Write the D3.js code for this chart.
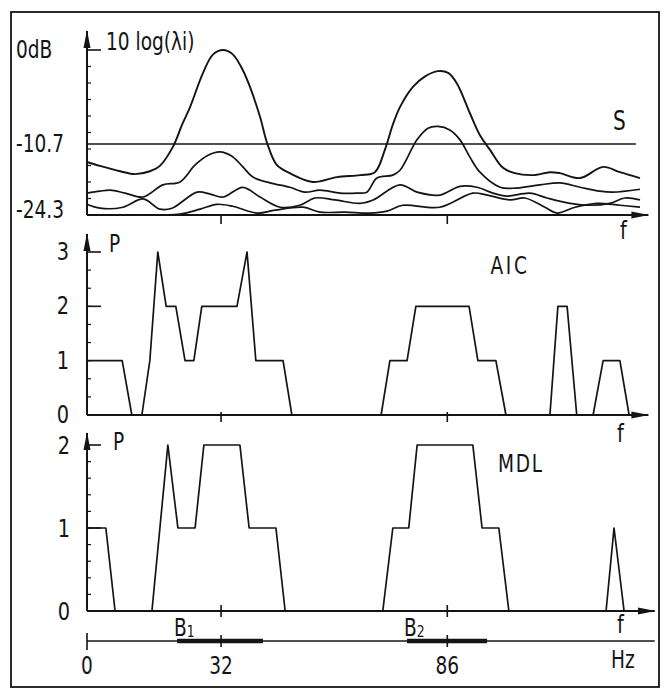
<!DOCTYPE html>
<html>
<head>
<meta charset="utf-8">
<script src="https://cdn.jsdelivr.net/npm/d3@7"></script>
<style>
  body { margin: 0; background: #fff; }
  svg text { font-family: "DejaVu Sans Condensed", "DejaVu Sans", sans-serif; fill: #141414; }
</style>
</head>
<body>
<div id="chart"></div>
<script>
// eigenvalue curves, [f (Hz), 10 log(lambda_i) (dB)]
const lambda1 = [[0,-14.4],[3.1,-15.2],[7.9,-16.3],[11.5,-16.9],[15.0,-16.3],[17.4,-15.2],[20.5,-11.3],[22.7,-8.5],[24.6,-6.5],[27.7,-2.6],[30.1,-0.5],[32.5,0],[34.8,-0.5],[37.2,-2.3],[38.9,-4.2],[41.3,-7.6],[43.0,-10.6],[45.3,-15.0],[48.4,-16.7],[53.9,-18.5],[59.7,-17.5],[65.2,-17.1],[68.7,-16.5],[71.1,-11.9],[73.0,-8.5],[74.7,-6.5],[77.8,-4.2],[80.7,-3.0],[83.8,-2.4],[86.2,-2.6],[88.3,-3.8],[91.4,-7.2],[93.8,-9.7],[96.2,-11.9],[99.3,-15.6],[102.1,-16.7],[106.4,-17.1],[110.5,-16.5],[112.9,-16.7],[117.7,-17.7],[123.2,-15.4],[127.2,-16.5],[132.0,-17.7]];
const lambda2 = [[0,-20.8],[3.1,-20.4],[5.5,-20.2],[9.1,-20.8],[13.4,-21.6],[18.1,-19.1],[22.2,-18.5],[25.8,-15.0],[28.9,-13.0],[31.7,-12.3],[34.6,-13.2],[37.2,-15.4],[39.6,-17.5],[43.7,-18.7],[48.4,-19.6],[52.0,-20.6],[55.6,-20.2],[60.4,-20.8],[64.4,-20.8],[66.8,-20.6],[69.2,-17.7],[73.0,-17.1],[74.7,-16.1],[78.8,-10.2],[81.4,-8.9],[83.8,-8.7],[86.6,-9.1],[89.0,-10.2],[91.4,-13.4],[93.8,-16.5],[98.6,-19.6],[101.7,-19.8],[108.1,-19.1],[112.9,-18.7],[117.7,-19.6],[122.4,-20.4],[125.5,-20.6],[132.0,-20.0]];
const lambda3 = [[0,-23.1],[3.1,-23.9],[8.6,-23.7],[13.4,-22.0],[17.4,-24.1],[20.3,-23.9],[26.3,-20.6],[29.4,-21.0],[32.5,-21.6],[37.2,-19.6],[41.3,-21.6],[46.1,-23.7],[50.8,-23.3],[54.4,-21.8],[59.2,-22.2],[65.2,-22.9],[68.3,-22.2],[74.7,-19.1],[78.8,-20.6],[84.2,-21.2],[89.0,-19.4],[93.1,-19.6],[96.9,-20.8],[100.2,-21.4],[105.7,-20.8],[109.8,-21.8],[115.3,-22.9],[120.0,-23.3],[124.8,-22.9],[128.4,-21.8],[132.0,-22.2]];
const lambda4 = [[0,-25.3],[7.9,-25.3],[22.2,-25.1],[27.0,-24.1],[31.0,-23.1],[34.8,-23.5],[40.6,-24.9],[44.9,-24.3],[51.6,-23.7],[55.6,-24.7],[61.6,-24.7],[67.5,-24.9],[71.6,-24.5],[75.4,-23.3],[84.2,-23.7],[92.1,-20.8],[95.5,-21.2],[101.0,-22.2],[104.5,-21.8],[109.3,-23.7],[112.2,-24.9],[116.5,-23.7],[121.7,-22.9],[127.2,-23.3],[132.0,-23.7]];
const eigen = [lambda1, lambda2, lambda3, lambda4];
const threshold = -10.7;
const dbTicks = [-24.3, -10.7, 0];

// estimated number of sources P
const aicF = [0, 8.4, 10.7, 13.1, 15.0, 16.9, 18.9, 21.2, 23.4, 25.5, 27.4, 35.8, 38.2, 40.3, 46.8, 48.9, 70.2, 72.3, 76.4, 78.5, 91.2, 93.3, 97.6, 100.0, 110.5, 112.4, 114.6, 116.9, 120.8, 123.2, 127.2, 129.4];
const aicP = [1, 1, 0, 0, 1, 3, 2, 2, 1, 1, 2, 2, 3, 1, 1, 0, 0, 1, 1, 2, 2, 1, 1, 0, 0, 2, 2, 0, 0, 1, 1, 0];
const mdlF = [0, 4.5, 6.7, 15.5, 19.3, 21.7, 25.8, 27.9, 36.5, 38.7, 45.1, 47.3, 70.6, 73.0, 76.8, 78.8, 92.1, 94.3, 98.3, 100.7, 123.9, 125.8, 128.2];
const mdlP = [1, 1, 0, 0, 2, 1, 1, 2, 2, 1, 1, 0, 0, 1, 1, 2, 2, 1, 1, 0, 0, 1, 0];
const aicTicks = [0, 1, 2, 3];
const mdlTicks = [0, 1, 2];

const freqTicks = [0, 32, 86];
const bands = [
    { sub: '1', from: 21.5, to: 42.0 },
    { sub: '2', from: 76.4, to: 95.5 }
];

const width = 667, height = 698;
const ink = '#141414';
const squeeze = 0.86; // the original lettering is narrow

const svg = d3.select('#chart').append('svg')
    .attr('width', width)
    .attr('height', height);

const defs = svg.append('defs');
defs.append('marker')
    .attr('id', 'arrow')
    .attr('viewBox', '0 0 18 8')
    .attr('refX', 17).attr('refY', 4)
    .attr('markerWidth', 18).attr('markerHeight', 8)
    .attr('markerUnits', 'userSpaceOnUse')
    .attr('orient', 'auto')
    .append('path')
    .attr('d', 'M0,0.5 L18,4 L0,7.5 Z')
    .attr('fill', ink);

// frame
svg.append('rect')
    .attr('x', 11).attr('y', 12)
    .attr('width', 648).attr('height', 675)
    .attr('fill', 'none').attr('stroke', ink).attr('stroke-width', 1.8);

const x = d3.scaleLinear().domain([0, 132]).range([87, 640]);
const yTop = d3.scaleLinear().domain([-25.3, -10.7, 0]).range([215, 144, 50]);
const yAic = d3.scaleLinear().domain([0, 3]).range([415, 252]);
const yMdl = d3.scaleLinear().domain([0, 2]).range([611, 445]);

function text(str, px, py, size, anchor, ls) {
    return svg.append('text')
        .attr('transform', `translate(${px},${py}) scale(${squeeze},1)`)
        .attr('font-size', size || 23)
        .attr('text-anchor', anchor || 'start')
        .attr('letter-spacing', ls || 0)
        .text(str);
}

function axes(y, yMin, tipY, fEnd, minorStep, majors, tickDown) {
    const g = svg.append('g').attr('stroke', ink).attr('fill', 'none');
    const x0 = x(0), yb = y(yMin);
    const dom = y.domain();
    g.append('line').attr('x1', x0).attr('y1', yb).attr('x2', x0).attr('y2', tipY)
        .attr('stroke-width', 2).attr('marker-end', 'url(#arrow)');
    g.append('line').attr('x1', x0).attr('y1', yb).attr('x2', x(fEnd)).attr('y2', yb)
        .attr('stroke-width', 2.2).attr('marker-end', 'url(#arrow)');
    // minor ticks, evenly spaced along the axis
    const minor = d3.scaleLinear().domain([0, minorStep]).range([y(dom[dom.length - 1]), yb]);
    d3.range(1, minorStep).forEach(i => {
        g.append('line').attr('x1', x0).attr('x2', x0 + 4)
            .attr('y1', minor(i)).attr('y2', minor(i)).attr('stroke-width', 1.2);
    });
    majors.forEach(v => {
        g.append('line').attr('x1', x0).attr('x2', x0 + 14)
            .attr('y1', y(v)).attr('y2', y(v)).attr('stroke-width', 1.6);
    });
    [32, 86].forEach(f => {
        g.append('line').attr('x1', x(f)).attr('x2', x(f))
            .attr('y1', yb - tickDown[0]).attr('y2', yb + tickDown[1]).attr('stroke-width', 1.6);
    });
}

// ---- top panel: eigenvalues
axes(yTop, -25.3, 31, 134, 10, [0], [0, 9]);

svg.append('line')
    .attr('x1', x(0)).attr('x2', x(131))
    .attr('y1', yTop(threshold)).attr('y2', yTop(threshold))
    .attr('stroke', ink).attr('stroke-width', 1.4);

const eigLine = d3.line()
    .x(d => x(d[0]))
    .y(d => yTop(d[1]))
    .curve(d3.curveCatmullRom.alpha(0.5));

svg.append('g').selectAll('path')
    .data(eigen)
    .enter()
    .append('path')
    .attr('d', eigLine)
    .attr('fill', 'none')
    .attr('stroke', ink)
    .attr('stroke-width', (d, i) => i === 0 ? 1.9 : 1.7)
    .attr('stroke-linejoin', 'round');

dbTicks.forEach(v => {
    text(v === 0 ? '0dB' : String(v), 16, yTop(v) + 8, 24);
});
text('10 log(\u03bbi)', 106, 50, 24);
text('S', 613, 130, 26);
text('f', 620, 239, 25);

// ---- AIC panel
axes(yAic, 0, 234, 134, 9, [2, 3], [3, 7]);
const pLineAic = d3.line().x((d, i) => x(aicF[i])).y(d => yAic(d));
svg.append('path')
    .attr('d', pLineAic(aicP))
    .attr('fill', 'none').attr('stroke', ink).attr('stroke-width', 1.7)
    .attr('stroke-linejoin', 'round');
aicTicks.forEach(v => text(String(v), 63, yAic(v) + 8, 25, 'middle'));
text('P', 109, 252, 24);
text('AIC', 510, 274, 24, 'middle', 3);
text('f', 617, 442, 25);

// ---- MDL panel
axes(yMdl, 0, 433, 135.5, 10, [1, 2], [6, 6]);
const pLineMdl = d3.line().x((d, i) => x(mdlF[i])).y(d => yMdl(d));
svg.append('path')
    .attr('d', pLineMdl(mdlP))
    .attr('fill', 'none').attr('stroke', ink).attr('stroke-width', 1.7)
    .attr('stroke-linejoin', 'round');
mdlTicks.forEach(v => text(String(v), 64, yMdl(v) + 9, 25, 'middle'));
text('P', 113, 450, 24);
text('MDL', 521, 472, 24, 'middle', 2);
text('f', 617, 633, 25);

// ---- frequency axis (Hz) with bands
const hzY = 641;
const hz = svg.append('g').attr('stroke', ink);
hz.append('line').attr('x1', x(0)).attr('x2', x(135.5))
    .attr('y1', hzY).attr('y2', hzY).attr('stroke-width', 1.5);
hz.append('line').attr('x1', x(0)).attr('x2', x(0))
    .attr('y1', hzY - 8).attr('y2', hzY + 9).attr('stroke-width', 1.6);
freqTicks.slice(1).forEach(f => {
    hz.append('line').attr('x1', x(f)).attr('x2', x(f))
        .attr('y1', hzY - 6).attr('y2', hzY + 6).attr('stroke-width', 1.6);
});
bands.forEach(b => {
    hz.append('line').attr('x1', x(b.from)).attr('x2', x(b.to))
        .attr('y1', hzY).attr('y2', hzY).attr('stroke-width', 4.5);
    const t = text('B', x(b.from) - 3, hzY - 5, 24);
    t.append('tspan').attr('font-size', 16).attr('dy', 1).text(b.sub);
});
freqTicks.forEach(f => text(String(f), x(f), 674, 24, 'middle'));
text('Hz', 611, 668, 24);
</script>
</body>
</html>
